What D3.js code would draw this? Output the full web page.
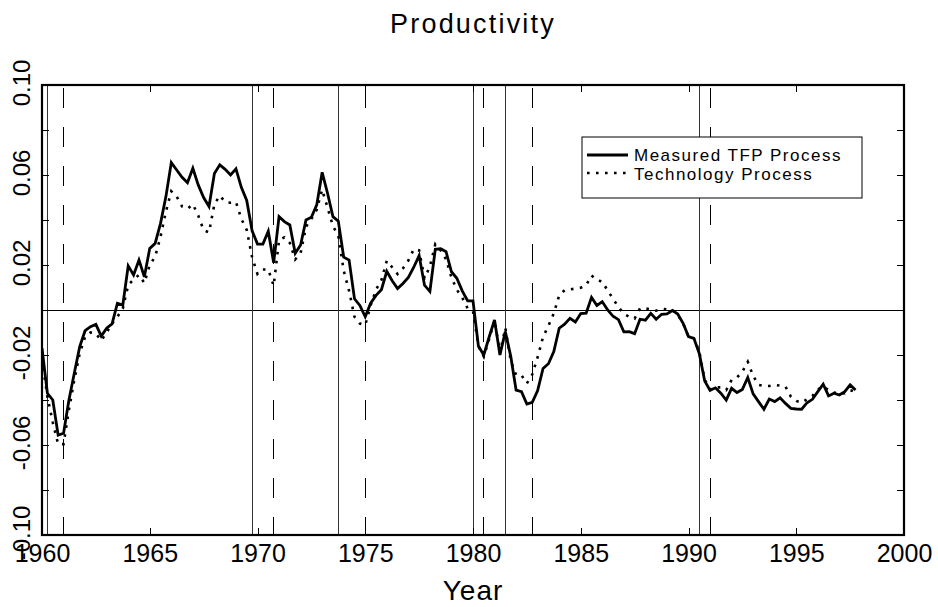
<!DOCTYPE html>
<html><head><meta charset="utf-8">
<script src="https://cdn.jsdelivr.net/npm/d3@7/dist/d3.min.js"></script>
<style>body{margin:0;background:#fff}</style>
</head><body>
<svg id="chart" width="938" height="607"></svg>
<script>
// Quarterly observations, first one is 1960:Q1
const startYear = 1960;
const measuredTFP = [
 -0.017,-0.037,-0.040,-0.0556,-0.0548,-0.040,-0.028,-0.0163,-0.0092,-0.0074,
 -0.0064,-0.0116,-0.0081,-0.0062,0.003,0.0022,0.0196,0.0156,0.0222,0.0148,
 0.0274,0.0296,0.0385,0.0504,0.0655,0.0622,0.059,0.0566,0.063,0.0556,
 0.050,0.046,0.0607,0.0645,0.0625,0.060,0.0627,0.0545,0.0487,0.0352,
 0.0293,0.0293,0.035,0.021,0.0415,0.0393,0.0378,0.0252,0.0289,0.040,
 0.0412,0.0467,0.0612,0.0519,0.0415,0.0395,0.0235,0.0222,0.005,0.002,
 -0.003,0.003,0.0065,0.009,0.0172,0.013,0.0095,0.0118,0.0145,0.019,
 0.0242,0.011,0.0082,0.027,0.0272,0.0259,0.017,0.0141,0.0085,0.0041,
 0.0041,-0.016,-0.020,-0.012,-0.0044,-0.020,-0.0096,-0.0205,-0.0356,-0.0363,
 -0.0418,-0.041,-0.0358,-0.026,-0.0239,-0.0185,-0.0081,-0.0063,-0.0037,-0.0053,
 -0.0016,-0.0014,0.0056,0.002,0.0037,0.0,-0.0028,-0.0043,-0.0097,-0.0096,
 -0.0105,-0.0041,-0.0045,-0.0015,-0.0041,-0.0019,-0.0017,-0.0002,-0.0018,-0.0059,
 -0.0118,-0.0126,-0.0193,-0.0315,-0.0357,-0.0346,-0.037,-0.040,-0.0348,-0.0367,
 -0.0353,-0.030,-0.0373,-0.0407,-0.0441,-0.0396,-0.0407,-0.039,-0.0415,-0.0437,
 -0.044,-0.0441,-0.0412,-0.0397,-0.0363,-0.033,-0.0382,-0.037,-0.0378,-0.0363,
 -0.0333,-0.0356
];
const technologyProcess = [
 -0.022,-0.0385,-0.050,-0.0596,-0.0596,-0.0444,-0.031,-0.0193,-0.0119,-0.010,
 -0.0104,-0.0136,-0.010,-0.006,-0.003,0.0007,0.011,0.0136,0.0156,0.012,
 0.020,0.0237,0.0326,0.0437,0.0528,0.0504,0.046,0.045,0.047,0.042,
 0.0355,0.0345,0.047,0.0508,0.048,0.0477,0.048,0.0405,0.0356,0.0235,
 0.016,0.018,0.018,0.0108,0.031,0.0323,0.0298,0.0225,0.0252,0.037,
 0.0405,0.0446,0.0535,0.0455,0.0373,0.033,0.0175,0.0085,-0.003,-0.006,
 -0.0067,0.002,0.009,0.0133,0.0219,0.019,0.016,0.0185,0.022,0.027,
 0.0265,0.0141,0.0193,0.0292,0.0265,0.0225,0.0145,0.009,0.0055,0.0007,
 -0.0005,-0.016,-0.0207,-0.013,-0.0045,-0.019,-0.008,-0.0225,-0.0289,-0.029,
 -0.0326,-0.0287,-0.021,-0.012,-0.007,-0.0015,0.0065,0.0088,0.0092,0.0095,
 0.0099,0.011,0.0153,0.0133,0.0126,0.0086,0.005,0.0013,-0.0017,-0.003,
 -0.0038,0.0007,0.0007,0.0003,-0.0003,0.0006,0.0003,0.0,-0.0022,-0.0059,
 -0.012,-0.0126,-0.0185,-0.031,-0.0352,-0.0344,-0.0344,-0.0356,-0.0311,-0.030,
 -0.0274,-0.023,-0.0293,-0.0333,-0.0338,-0.0338,-0.0333,-0.0336,-0.034,-0.0385,
 -0.0404,-0.0412,-0.0397,-0.0382,-0.0353,-0.034,-0.0356,-0.0367,-0.0373,-0.037,
 -0.0356,-0.0363
];
const peakDates = [1960.25, 1969.75, 1973.75, 1980.0, 1981.5, 1990.5];
const troughDates = [1961.0, 1970.75, 1975.0, 1980.5, 1982.75, 1991.0];
const xTickValues = [1960, 1965, 1970, 1975, 1980, 1985, 1990, 1995, 2000];
const yTickMarks = [-0.10, -0.08, -0.06, -0.04, -0.02, 0.00, 0.02, 0.04, 0.06, 0.08, 0.10];
const yTickLabels = [-0.10, -0.06, -0.02, 0.02, 0.06, 0.10];
const seriesNames = ["Measured TFP Process", "Technology Process"];
const titleText = "Productivity";
const xLabelText = "Year";

const svg = d3.select("#chart");
const L = 42, R = 904, T = 85, B = 535;
const x = d3.scaleLinear().domain([1960, 2000]).range([L, R]);
const y = d3.scaleLinear().domain([-0.10, 0.10]).range([B, T]);
const FONT = "'Liberation Sans', Arial, sans-serif";

svg.append("rect").attr("width", 938).attr("height", 607).attr("fill", "#fff");

svg.append("defs").append("clipPath").attr("id", "clip")
  .append("rect").attr("x", L).attr("y", T).attr("width", R - L).attr("height", B - T);

const plot = svg.append("g").attr("clip-path", "url(#clip)");

// zero line
plot.append("line").attr("x1", L).attr("x2", R).attr("y1", y(0)).attr("y2", y(0))
  .attr("stroke", "#000").attr("stroke-width", 1).attr("shape-rendering", "crispEdges");

// recession lines
plot.selectAll("line.peak").data(peakDates).enter().append("line")
  .attr("class", "peak")
  .attr("x1", d => x(d)).attr("x2", d => x(d)).attr("y1", T).attr("y2", B)
  .attr("stroke", "#333").attr("stroke-width", 1).attr("shape-rendering", "crispEdges");
plot.selectAll("line.trough").data(troughDates).enter().append("line")
  .attr("class", "trough")
  .attr("x1", d => x(d)).attr("x2", d => x(d)).attr("y1", T + 3).attr("y2", B)
  .attr("stroke", "#000").attr("stroke-width", 1).attr("stroke-dasharray", "20,19")
  .attr("shape-rendering", "crispEdges");

const toPts = arr => arr.map((v, i) => [startYear + i / 4, v]);
const line = d3.line().x(d => x(d[0])).y(d => y(d[1]));

plot.append("path").datum(toPts(technologyProcess)).attr("d", line)
  .attr("fill", "none").attr("stroke", "#000").attr("stroke-width", 2.6)
  .attr("stroke-dasharray", "2.6,6.4");
plot.append("path").datum(toPts(measuredTFP)).attr("d", line)
  .attr("fill", "none").attr("stroke", "#000").attr("stroke-width", 2.8)
  .attr("stroke-linejoin", "miter");

// axes (inward ticks on all four sides)
const gx = svg.append("g").attr("transform", `translate(0,${B})`)
  .call(d3.axisBottom(x).tickValues(xTickValues).tickSizeInner(-7).tickSizeOuter(0).tickPadding(9).tickFormat(d3.format("d")));
const gxTop = svg.append("g").attr("transform", `translate(0,${T})`)
  .call(d3.axisTop(x).tickValues(xTickValues).tickSizeInner(-7).tickSizeOuter(0).tickFormat(""));
const gy = svg.append("g").attr("transform", `translate(${L},0)`)
  .call(d3.axisLeft(y).tickValues(yTickMarks).tickSizeInner(-7).tickSizeOuter(0).tickFormat(""));
const gyR = svg.append("g").attr("transform", `translate(${R},0)`)
  .call(d3.axisRight(y).tickValues(yTickMarks).tickSizeInner(-7).tickSizeOuter(0).tickFormat(""));
[gx, gxTop, gy, gyR].forEach(g => {
  g.select(".domain").remove();
  g.selectAll(".tick line").attr("stroke", "#000").attr("stroke-width", 1).attr("shape-rendering", "crispEdges");
});
gx.selectAll("text").attr("font-family", FONT).attr("font-size", 25).attr("fill", "#000");

// rotated y labels
svg.append("g").selectAll("text").data(yTickLabels).enter().append("text")
  .attr("transform", d => `translate(30,${y(d) - 2}) rotate(-90)`)
  .attr("text-anchor", "middle")
  .attr("font-family", FONT).attr("font-size", 24).attr("fill", "#000")
  .text(d => d3.format(".2f")(d).replace("−", "-"));

// frame
svg.append("rect").attr("x", L).attr("y", T).attr("width", R - L).attr("height", B - T)
  .attr("fill", "none").attr("stroke", "#000").attr("stroke-width", 2.2);

// title and x label
svg.append("text").attr("x", (L + R) / 2).attr("y", 33).attr("text-anchor", "middle")
  .attr("font-family", FONT).attr("font-size", 27).attr("letter-spacing", 2.2).text(titleText);
svg.append("text").attr("x", (L + R) / 2).attr("y", 600).attr("text-anchor", "middle")
  .attr("font-family", FONT).attr("font-size", 28).attr("letter-spacing", 1).text(xLabelText);

// legend
const lg = svg.append("g");
lg.append("rect").attr("x", 582).attr("y", 137).attr("width", 280).attr("height", 61)
  .attr("fill", "#fff").attr("stroke", "#000").attr("stroke-width", 1);
lg.append("line").attr("x1", 587).attr("x2", 628).attr("y1", 155).attr("y2", 155)
  .attr("stroke", "#000").attr("stroke-width", 2.8);
lg.append("line").attr("x1", 587).attr("x2", 628).attr("y1", 173).attr("y2", 173)
  .attr("stroke", "#000").attr("stroke-width", 2.6).attr("stroke-dasharray", "2.6,6.4");
lg.selectAll("text").data(seriesNames).enter().append("text")
  .attr("x", 634).attr("y", (d, i) => 161 + i * 19)
  .attr("font-family", FONT).attr("font-size", 17).attr("letter-spacing", 1.5)
  .text(d => d);
</script>
</body></html>
